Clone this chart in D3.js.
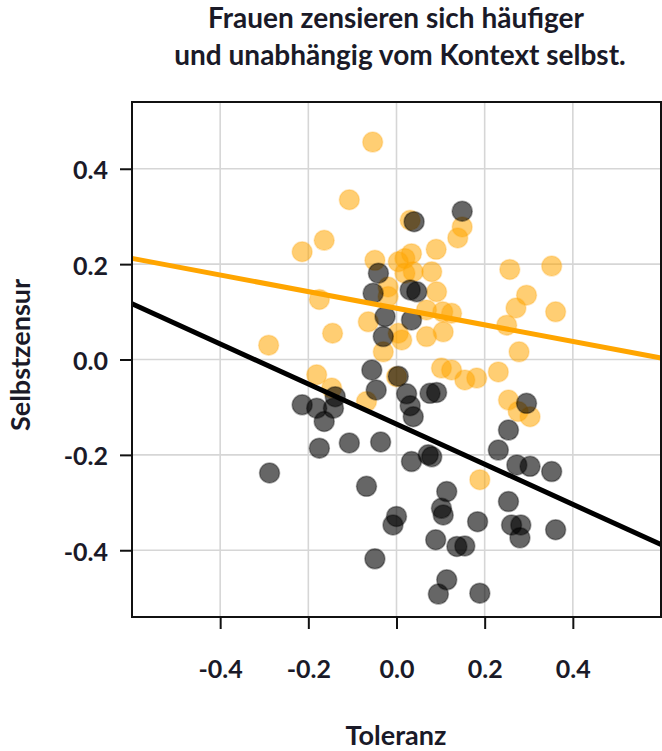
<!DOCTYPE html>
<html><head><meta charset="utf-8">
<script src="https://cdn.jsdelivr.net/npm/d3@7"></script>
<style>body{margin:0;background:#fff}svg{display:block}</style>
</head><body>
<script>
const titleLines = ["Frauen zensieren sich häufiger", "und unabhängig vom Kontext selbst."];
const xLabel = "Toleranz";
const yLabel = "Selbstzensur";
const xTicks = [-0.4, -0.2, 0.0, 0.2, 0.4];
const yTicks = [-0.4, -0.2, 0.0, 0.2, 0.4];

// Frauen (orange) points: [Toleranz, Selbstzensur]
const orangeX = [-0.054,-0.107,-0.164,-0.214,-0.049,-0.175,-0.064,-0.145,-0.290,-0.030,0.031,0.149,0.139,0.090,0.034,0.019,0.004,0.080,0.038,0.019,-0.019,0.091,0.257,0.352,0.295,0.271,0.361,0.250,0.068,0.105,0.125,0.106,0.068,0.004,0.012,-0.019,0.278,0.102,0.125,0.155,0.182,0.231,0.254,0.276,0.303,0.189,-0.181,-0.147,-0.068,0.000];
const orangeY = [0.456,0.335,0.250,0.226,0.208,0.126,0.079,0.055,0.030,0.016,0.292,0.278,0.255,0.231,0.222,0.212,0.205,0.184,0.184,0.181,0.152,0.142,0.189,0.196,0.135,0.108,0.100,0.072,0.104,0.100,0.097,0.058,0.048,0.055,0.041,0.132,0.016,-0.018,-0.022,-0.043,-0.039,-0.026,-0.085,-0.109,-0.120,-0.252,-0.032,-0.060,-0.088,-0.036];

// Männer (black) points
const blackX = [-0.041,-0.053,-0.026,-0.030,0.040,0.149,0.031,0.046,0.034,-0.056,-0.046,0.004,0.023,0.031,0.038,0.076,0.091,0.295,-0.214,-0.181,-0.143,-0.139,-0.164,-0.175,-0.107,-0.036,-0.288,-0.068,0.000,-0.008,-0.049,0.254,0.231,0.273,0.303,0.352,0.034,0.072,0.080,0.114,0.102,0.106,0.184,0.254,0.261,0.282,0.280,0.361,0.089,0.137,0.155,0.114,0.095,0.189];
const blackY = [0.181,0.139,0.090,0.048,0.289,0.311,0.146,0.142,0.083,-0.022,-0.064,-0.035,-0.072,-0.097,-0.120,-0.071,-0.069,-0.092,-0.095,-0.102,-0.102,-0.078,-0.130,-0.186,-0.175,-0.173,-0.238,-0.266,-0.329,-0.347,-0.418,-0.148,-0.190,-0.221,-0.224,-0.235,-0.214,-0.200,-0.204,-0.277,-0.312,-0.326,-0.340,-0.298,-0.347,-0.347,-0.374,-0.357,-0.378,-0.392,-0.391,-0.462,-0.492,-0.490];

// regression lines: end points
const orangeLineX = [-0.6, 0.6];
const orangeLineY = [0.212, 0.003];
const blackLineX = [-0.6, 0.6];
const blackLineY = [0.117, -0.388];

const W = 662, H = 751;
const mL = 132, mR = 661, mT = 102, mB = 617;
const font = "Lato, 'Open Sans', sans-serif";
const textColor = "#1a1a28";

const svg = d3.select("body").append("svg").attr("width", W).attr("height", H);

const x = d3.scaleLinear().domain([-0.6, 0.6]).range([mL, mR]);
const y = d3.scaleLinear().domain([-0.54, 0.54]).range([mB, mT]);

// grid
const g = svg.append("g");
g.selectAll("line.gx").data(xTicks).join("line").attr("class", "gx")
  .attr("x1", d => x(d)).attr("x2", d => x(d)).attr("y1", mT).attr("y2", mB)
  .attr("stroke", "#d6d6d6").attr("stroke-width", 1.6);
g.selectAll("line.gy").data(yTicks).join("line").attr("class", "gy")
  .attr("y1", d => y(d)).attr("y2", d => y(d)).attr("x1", mL).attr("x2", mR)
  .attr("stroke", "#d6d6d6").attr("stroke-width", 1.6);

// points
const oData = orangeX.map((d, i) => [d, orangeY[i]]);
const bData = blackX.map((d, i) => [d, blackY[i]]);
svg.append("g").selectAll("circle").data(oData).join("circle")
  .attr("cx", d => x(d[0])).attr("cy", d => y(d[1])).attr("r", 10)
  .attr("fill", "#FFA500").attr("fill-opacity", 0.55)
  .attr("stroke", "#FFA500").attr("stroke-opacity", 0.25).attr("stroke-width", 1.5);
svg.append("g").selectAll("circle").data(bData).join("circle")
  .attr("cx", d => x(d[0])).attr("cy", d => y(d[1])).attr("r", 10)
  .attr("fill", "#000").attr("fill-opacity", 0.6)
  .attr("stroke", "#000").attr("stroke-opacity", 0.35).attr("stroke-width", 1.5);

// lines
const line = d3.line().x(d => x(d[0])).y(d => y(d[1]));
svg.append("path").datum(orangeLineX.map((d, i) => [d, orangeLineY[i]]))
  .attr("d", line).attr("stroke", "#FFA500").attr("stroke-width", 5).attr("fill", "none");
svg.append("path").datum(blackLineX.map((d, i) => [d, blackLineY[i]]))
  .attr("d", line).attr("stroke", "#000").attr("stroke-width", 5).attr("fill", "none");

// border
svg.append("rect").attr("x", mL).attr("y", mT).attr("width", mR - mL).attr("height", mB - mT)
  .attr("fill", "none").attr("stroke", "#111").attr("stroke-width", 2);

// axes
const fmt = d => d3.format(".1f")(d).replace("−", "-");
const xAxis = d3.axisBottom(x).tickValues(xTicks).tickFormat(fmt).tickSize(12).tickSizeOuter(0);
const xa = svg.append("g").attr("transform", `translate(0,${mB})`).call(xAxis);
xa.select(".domain").remove();
xa.selectAll(".tick line").attr("stroke", "#111").attr("stroke-width", 2);
xa.selectAll(".tick text").attr("font-family", font).attr("font-size", 25).attr("font-weight", "bold")
  .attr("fill", textColor).attr("dy", 0).attr("y", 61);

const yAxis = d3.axisLeft(y).tickValues(yTicks).tickFormat(fmt).tickSize(12).tickSizeOuter(0);
const ya = svg.append("g").attr("transform", `translate(${mL},0)`).call(yAxis);
ya.select(".domain").remove();
ya.selectAll(".tick line").attr("stroke", "#111").attr("stroke-width", 2);
ya.selectAll(".tick text").attr("font-family", font).attr("font-size", 25).attr("font-weight", "bold")
  .attr("fill", textColor).attr("x", -24).attr("dy", "0.4em");

// titles
svg.append("g").selectAll("text").data(titleLines).join("text")
  .attr("x", (d, i) => i === 0 ? 396 : 400).attr("y", (d, i) => 28 + i * 37)
  .attr("text-anchor", "middle").attr("font-family", font).attr("font-size", 28)
  .attr("font-weight", "bold").attr("fill", textColor).text(d => d);

svg.append("text").attr("x", 396).attr("y", 745).attr("text-anchor", "middle")
  .attr("font-family", font).attr("font-size", 27).attr("font-weight", "bold")
  .attr("fill", textColor).text(xLabel);

svg.append("text").attr("transform", "translate(30,355) rotate(-90)").attr("text-anchor", "middle")
  .attr("font-family", font).attr("font-size", 27).attr("font-weight", "bold")
  .attr("fill", textColor).text(yLabel);
</script>
</body></html>
